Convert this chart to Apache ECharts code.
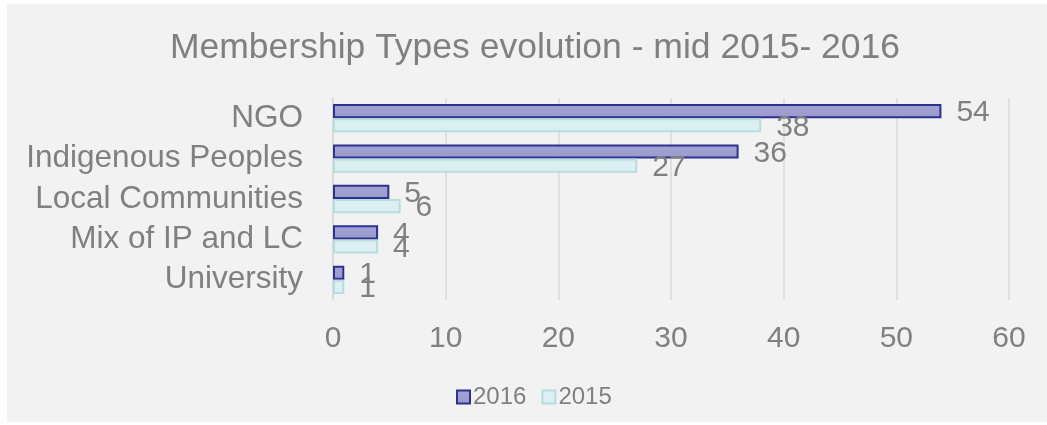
<!DOCTYPE html>
<html>
<head>
<meta charset="utf-8">
<script src="https://cdn.jsdelivr.net/npm/echarts@6/dist/echarts.min.js"></script>
<style>
  html, body { margin: 0; padding: 0; background: #fff; }
  #chart { width: 1047px; height: 425px; }
</style>
</head>
<body>
<div id="chart"></div>
<script>
// Membership types, mid 2015 vs 2016

const categories = ['NGO', 'Indigenous Peoples', 'Local Communities', 'Mix of IP and LC', 'University'];
const values2016 = [54, 36, 5, 4, 1];
const values2015 = [38, 27, 6, 4, 1];
const seriesNames = ['2016', '2015'];

const COLORS = {
  panel: '#f2f2f2',
  text: '#808080',
  grid: '#d9d9d9',
  fill16: '#9a9acb',
  fill16Top: '#a3a3d3',
  border16: '#2e3192',
  fill15: '#dcf0f1',
  border15: '#b6dde0',
};

const FONT = '"Liberation Sans", Arial, sans-serif';

const chart = echarts.init(document.getElementById('chart'), null, { renderer: 'canvas' });

function barLabel() {
  return {
    show: true,
    position: 'right',
    distance: 15,
    offset: [0, 2],
    color: COLORS.text,
    fontSize: 30,
    fontFamily: FONT,
  };
}

chart.setOption({
  backgroundColor: '#ffffff',
  animation: false,
  graphic: [{
    type: 'rect',
    z: -10,
    shape: { x: 7, y: 4, width: 1040, height: 418 },
    style: { fill: COLORS.panel },
  }],
  title: {
    text: 'Membership Types evolution - mid 2015- 2016',
    left: 530,
    top: 25,
    textAlign: 'center',
    textStyle: { color: COLORS.text, fontSize: 35.5, fontWeight: 'normal', fontFamily: FONT },
  },
  legend: {
    bottom: 16,
    left: 456,
    padding: 0,
    itemWidth: 13,
    itemHeight: 13,
    itemGap: 15,
    icon: 'rect',
    textStyle: { color: COLORS.text, fontSize: 24, fontFamily: FONT, padding: [0, 0, 0, -2] },
    data: seriesNames,
  },
  grid: { left: 333, right: 38, top: 98, bottom: 125, containLabel: false },
  xAxis: {
    type: 'value',
    min: 0,
    max: 60,
    interval: 10,
    axisLine: { show: false },
    axisTick: { show: false },
    axisLabel: { color: COLORS.text, fontSize: 30, fontFamily: FONT, margin: 24 },
    splitLine: { lineStyle: { color: COLORS.grid, width: 1.5 } },
  },
  yAxis: {
    type: 'category',
    inverse: true,
    data: categories,
    axisLine: { show: true, lineStyle: { color: COLORS.grid, width: 1.5 } },
    axisTick: { show: false },
    axisLabel: {
      color: COLORS.text, fontSize: 31.5, fontFamily: FONT, margin: 30,
      interval: 0, hideOverlap: false, lineHeight: 32,
    },
  },
  series: [
    {
      name: seriesNames[0],
      type: 'bar',
      data: values2016,
      barGap: '0%',
      barCategoryGap: '30%',
      itemStyle: {
        color: new echarts.graphic.LinearGradient(0, 0, 0, 1, [
          { offset: 0, color: COLORS.fill16Top },
          { offset: 1, color: COLORS.fill16 },
        ]),
        borderColor: COLORS.border16,
        borderWidth: 2,
      },
      label: barLabel(),
    },
    {
      name: seriesNames[1],
      type: 'bar',
      data: values2015,
      barGap: '0%',
      barCategoryGap: '30%',
      itemStyle: {
        color: COLORS.fill15,
        borderColor: COLORS.border15,
        borderWidth: 2,
      },
      label: barLabel(),
    },
  ],
});
</script>
</body>
</html>
